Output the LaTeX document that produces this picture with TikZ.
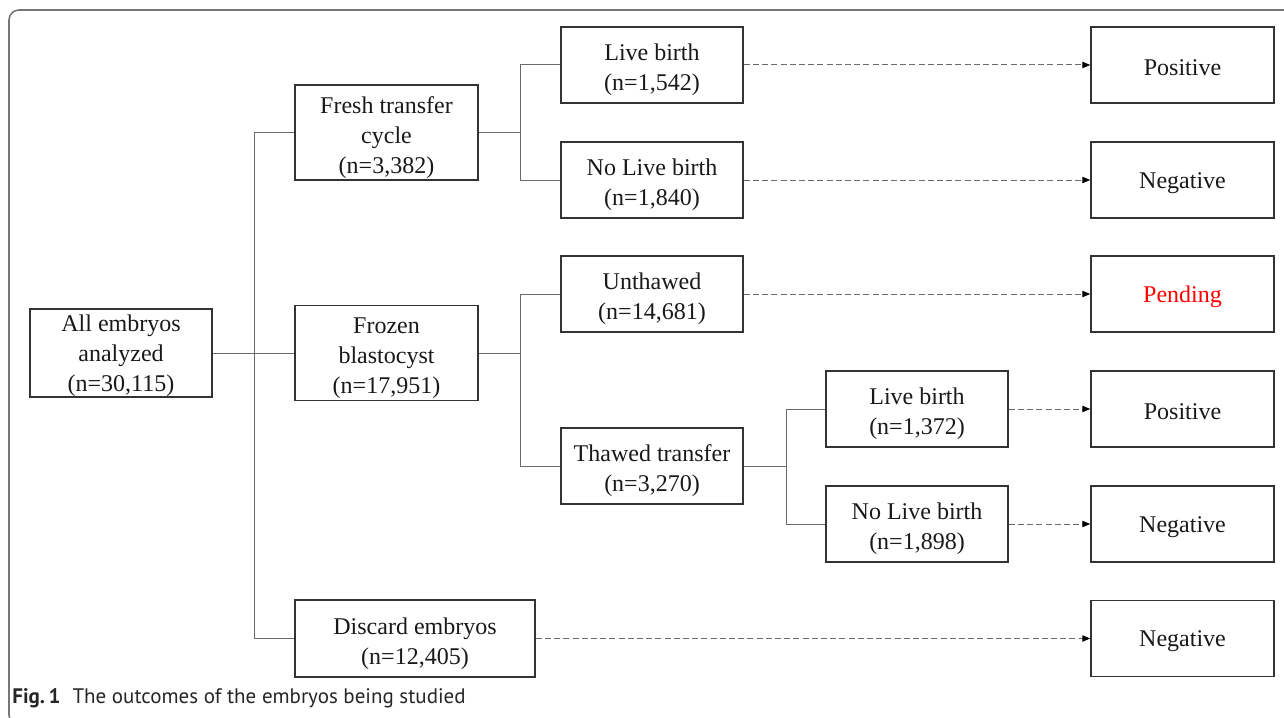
\documentclass[tikz,border=0pt]{standalone}
\usepackage{fontspec}
\setmainfont{Liberation Serif}
\newfontfamily\capfont{PT Sans}
\usetikzlibrary{arrows.meta}
\definecolor{boxline}{HTML}{333333}
\definecolor{connline}{HTML}{6A6A6A}
\definecolor{framec}{HTML}{777777}
\newcommand{\fls}{\rule{0pt}{13.5pt}}
\newcommand{\sls}{\rule{0pt}{11pt}}
\tikzset{
  box/.style={draw=boxline, line width=0.75pt, align=center, inner sep=0pt,
    font=\fontsize{12}{15}\selectfont, text=black!90},
  stdbox/.style={box, minimum width=91pt, minimum height=38pt},
  bigbox/.style={box, minimum width=91.5pt, minimum height=47.5pt},
  outbox/.style={stdbox, minimum width=91.5pt},
  conn/.style={draw=connline, line width=0.5pt},
  dasharrow/.style={draw=connline, line width=0.5pt, dash pattern=on 3pt off 1.6pt,
    -{Triangle[length=4pt,width=3.2pt,fill=black,color=black]}}
}
\begin{document}
\begin{tikzpicture}[x=0.5pt,y=-0.5pt]
\useasboundingbox (0,0) rectangle (1284,717);
\draw[framec, line width=0.8pt, rounded corners=5pt] (9,10) rectangle (1320,725);

% left column
\node[box, minimum width=91pt, minimum height=44pt] (all) at (121,353) {\sls All embryos\\analyzed\\(n=30,115)};
\node[bigbox] (fresh) at (386.5,132.5) {\fls Fresh transfer\\cycle\\(n=3,382)};
\node[bigbox] (frozen) at (386.5,353) {\fls Frozen\\blastocyst\\(n=17,951)};
\node[box, minimum width=120pt, minimum height=38.5pt] (discard) at (415,638.5) {\fls Discard embryos\\(n=12,405)};

% middle column
\node[stdbox] (lb1) at (652,65) {\fls Live birth\\(n=1,542)};
\node[stdbox] (nlb1) at (652,180) {\fls No Live birth\\(n=1,840)};
\node[stdbox] (unth) at (652,294) {\fls Unthawed\\(n=14,681)};
\node[stdbox] (thaw) at (652,466) {\fls Thawed transfer\\(n=3,270)};

% third column
\node[stdbox] (lb2) at (917,409) {\fls Live birth\\(n=1,372)};
\node[stdbox] (nlb2) at (917,524) {\fls No Live birth\\(n=1,898)};

% outcomes
\node[outbox] (o1) at (1182.5,65) {\sls Positive};
\node[outbox] (o2) at (1182.5,180) {\sls Negative};
\node[outbox, text=red] (o3) at (1182.5,294) {\sls Pending};
\node[outbox] (o4) at (1182.5,409) {\sls Positive};
\node[outbox] (o5) at (1182.5,524) {\sls Negative};
\node[outbox] (o6) at (1182.5,638.5) {\sls Negative};

% tree connectors
\draw[conn] (all.east) -- (frozen.west);
\draw[conn] (fresh.west) -- ++(-40,0) coordinate (t0) |- (discard.west);
\draw[conn] (fresh.east) -- ++(42,0) coordinate (j1);
\draw[conn] (lb1.west) -| (j1) |- (nlb1.west);
\draw[conn] (frozen.east) -- ++(42,0) coordinate (j2);
\draw[conn] (unth.west) -| (j2) |- (thaw.west);
\draw[conn] (thaw.east) -- ++(43,0) coordinate (j3);
\draw[conn] (lb2.west) -| (j3) |- (nlb2.west);

% dashed arrows
\draw[dasharrow] (lb1.east) -- (o1.west);
\draw[dasharrow] (nlb1.east) -- (o2.west);
\draw[dasharrow] (unth.east) -- (o3.west);
\draw[dasharrow] (lb2.east) -- (o4.west);
\draw[dasharrow] (nlb2.east) -- (o5.west);
\draw[dasharrow] (discard.east) -- (o6.west);

% caption
\node[anchor=base west, inner sep=0pt, font=\capfont\fontsize{10.5}{12}\selectfont, text=black!85] (cap) at (12,703)
  {\textbf{Fig.\,1}\hspace{6pt}The outcomes of the embryos being studied};
\end{tikzpicture}
\end{document}
